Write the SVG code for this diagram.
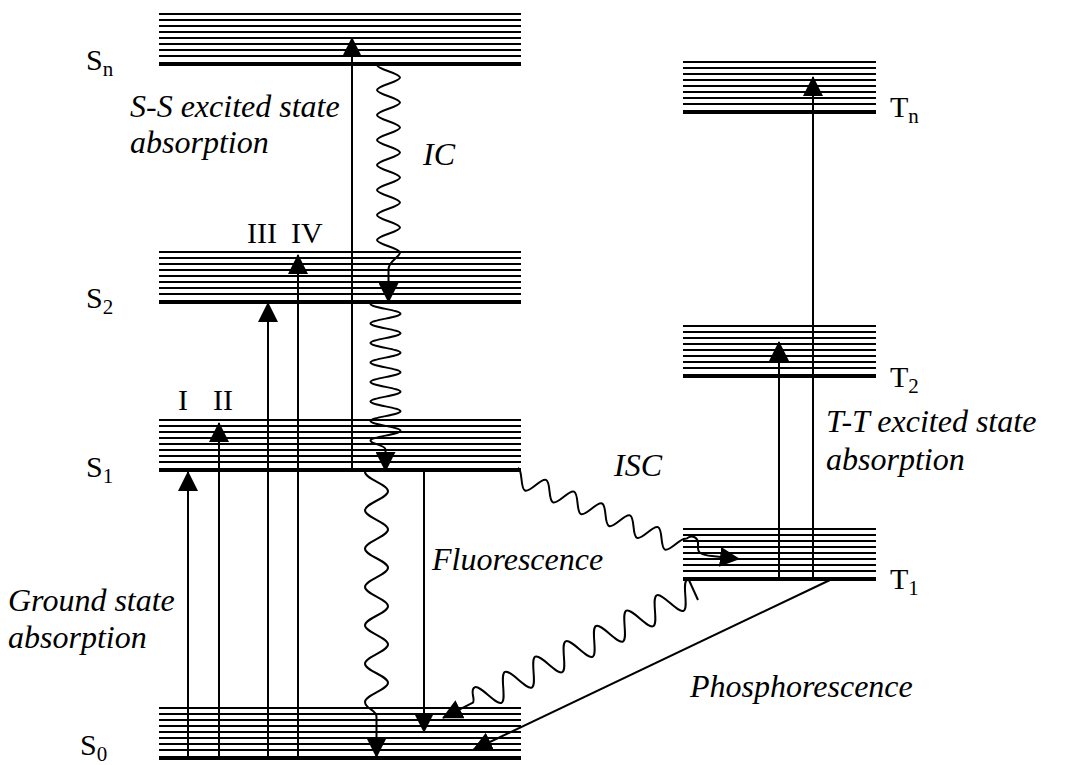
<svg xmlns="http://www.w3.org/2000/svg" xmlns:xlink="http://www.w3.org/1999/xlink" width="1068" height="765" viewBox="0 0 1068 765">
<style>
.lv{stroke:#000;stroke-width:2;fill:none}
.lvk{stroke:#000;stroke-width:4;fill:none}
.ln{stroke:#000;stroke-width:2;fill:none}
.lbl{font-family:"Liberation Serif","Times New Roman",serif;font-size:30px;fill:#000}
.sub{font-size:21px}
.it{font-family:"Liberation Serif","Times New Roman",serif;font-style:italic;font-size:32px;fill:#000}
.num{font-family:"Liberation Serif","Times New Roman",serif;font-size:30px;fill:#000}
</style>
<defs>
<marker id="ah" markerUnits="userSpaceOnUse" markerWidth="20" markerHeight="20" viewBox="0 0 20 20" refX="19" refY="10" orient="auto">
<path d="M0,0 L20,10 L0,20 z" fill="#000"/>
</marker>
<g id="bandS">
<path class="lv" d="M0,-50H362M0,-44H362M0,-38H362M0,-32H362M0,-26H362M0,-20H362M0,-14H362M0,-8H362"/>
<path class="lvk" d="M0,0H362"/>
</g>
<g id="bandT">
<path class="lv" d="M0,-50H193M0,-44H193M0,-38H193M0,-32H193M0,-26H193M0,-20H193M0,-14H193M0,-8H193"/>
<path class="lvk" d="M0,0H193"/>
</g>
</defs>
<rect width="1068" height="765" fill="#fff"/>

<g id="Sn">
<use xlink:href="#bandS" href="#bandS" transform="translate(159,64)"/>
<text class="lbl" x="86" y="70">S<tspan class="sub" dy="6">n</tspan></text>
</g>
<g id="S2">
<use xlink:href="#bandS" href="#bandS" transform="translate(159,302)"/>
<text class="lbl" x="86" y="308">S<tspan class="sub" dy="6">2</tspan></text>
</g>
<g id="S1">
<use xlink:href="#bandS" href="#bandS" transform="translate(159,470)"/>
<text class="lbl" x="86" y="477">S<tspan class="sub" dy="6">1</tspan></text>
</g>
<g id="S0">
<use xlink:href="#bandS" href="#bandS" transform="translate(159,758)"/>
<text class="lbl" x="80" y="755">S<tspan class="sub" dy="6">0</tspan></text>
</g>
<g id="Tn">
<use xlink:href="#bandT" href="#bandT" transform="translate(683,112)"/>
<text class="lbl" x="890" y="117">T<tspan class="sub" dy="6">n</tspan></text>
</g>
<g id="T2">
<use xlink:href="#bandT" href="#bandT" transform="translate(683,376)"/>
<text class="lbl" x="890" y="387">T<tspan class="sub" dy="6">2</tspan></text>
</g>
<g id="T1">
<use xlink:href="#bandT" href="#bandT" transform="translate(683,579)"/>
<text class="lbl" x="890" y="589">T<tspan class="sub" dy="6">1</tspan></text>
</g>

<g id="connectors" class="ln">
<path d="M188,757V472" marker-end="url(#ah)"/>
<path d="M219,757V423" marker-end="url(#ah)"/>
<path d="M268,757V303" marker-end="url(#ah)"/>
<path d="M298,757V255" marker-end="url(#ah)"/>
<path d="M352,470V38" marker-end="url(#ah)"/>
<path d="M424,470V732" marker-end="url(#ah)"/>
<path d="M813,579V77" marker-end="url(#ah)"/>
<path d="M779,579V342" marker-end="url(#ah)"/>
<path d="M830,580L473,750" marker-end="url(#ah)"/>
<path transform="translate(388.5,65) rotate(90)" marker-end="url(#ah)" d="M0,11.5 C4.54,11.5 7.96,-11.5 12.5,-11.5 S20.46,11.5 25,11.5 S32.96,-11.5 37.5,-11.5 S45.46,11.5 50,11.5 S57.96,-11.5 62.5,-11.5 S70.46,11.5 75,11.5 S82.96,-11.5 87.5,-11.5 S95.46,11.5 100,11.5 S107.96,-11.5 112.5,-11.5 S120.46,11.5 125,11.5 S132.96,-11.5 137.5,-11.5 S145.46,11.5 150,11.5 S157.96,-11.5 162.5,-11.5 S170.46,11.5 175,11.5 S182.96,-11.5 187.5,-11.5 S196,0 204.5,0 L237,0"/>
<path transform="translate(385.5,304) rotate(90)" marker-end="url(#ah)" d="M0,15 C3.54,15 6.21,-15 9.75,-15 S15.96,15 19.5,15 S25.71,-15 29.25,-15 S35.46,15 39,15 S45.21,-15 48.75,-15 S54.96,15 58.5,15 S64.71,-15 68.25,-15 S74.46,15 78,15 S84.21,-15 87.75,-15 S93.96,15 97.5,15 S103.71,-15 107.25,-15 S113.46,15 117,15 S123.21,-15 126.75,-15 S132.96,15 136.5,15 S141,0 145.5,0 L167,0"/>
<path transform="translate(376.5,472) rotate(90)" marker-end="url(#ah)" d="M0,11.5 C6.97,11.5 12.2,-11.5 19.17,-11.5 S31.36,11.5 38.33,11.5 S50.53,-11.5 57.5,-11.5 S69.7,11.5 76.67,11.5 S88.86,-11.5 95.83,-11.5 S108.03,11.5 115,11.5 S127.2,-11.5 134.17,-11.5 S146.36,11.5 153.33,11.5 S165.53,-11.5 172.5,-11.5 S184.7,11.5 191.67,11.5 S203.86,-11.5 210.83,-11.5 S223.03,11.5 230,11.5 S237.5,0 245,0 L285,0"/>
<path transform="translate(514.5,476.3) rotate(22.9)" d="M0,-9 C5.52,-9 9.68,9 15.2,9 S24.88,-9 30.4,-9 S40.08,9 45.6,9 S55.28,-9 60.8,-9 S70.48,9 76,9 S85.68,-9 91.2,-9 S100.88,9 106.4,9 S116.08,-9 121.6,-9 S131.28,9 136.8,9 S146.48,-9 152,-9 S161.68,9 167.2,9 S176.88,-9 182.4,-9"/>
<path d="M686,539 C692,534 699,537 698,546 C697,553 702,555 712,556 L739,559" marker-end="url(#ah)"/>
<path d="M688,578L698,600"/>
<path transform="translate(692.9,591.6) rotate(153.2)" marker-end="url(#ah)" d="M0,13 C6.18,13 10.82,-13 17,-13 S27.82,13 34,13 S44.82,-13 51,-13 S61.82,13 68,13 S78.82,-13 85,-13 S95.82,13 102,13 S112.82,-13 119,-13 S129.82,13 136,13 S146.82,-13 153,-13 S163.82,13 170,13 S180.82,-13 187,-13 S197.82,13 204,13 S214.82,-13 221,-13 S231.82,13 238,13 S242.5,0 247,0 L280,0"/>
</g>

<g id="labels">
<text class="it" x="130" y="117">S-S excited state</text>
<text class="it" x="130" y="153">absorption</text>
<text class="it" x="423" y="165">IC</text>
<text class="num" x="247" y="243">III</text>
<text class="num" x="291" y="243">IV</text>
<text class="num" x="178" y="410">I</text>
<text class="num" x="213" y="410">II</text>
<text class="it" x="614" y="476">ISC</text>
<text class="it" x="432" y="570">Fluorescence</text>
<text class="it" x="8" y="611">Ground state</text>
<text class="it" x="8" y="648">absorption</text>
<text class="it" x="826" y="432">T-T excited state</text>
<text class="it" x="826" y="470">absorption</text>
<text class="it" x="690" y="697">Phosphorescence</text>
</g>
</svg>
